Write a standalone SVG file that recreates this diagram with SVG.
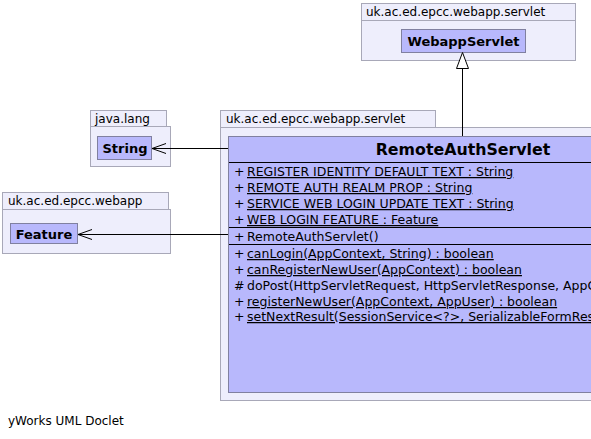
<svg xmlns="http://www.w3.org/2000/svg" width="591" height="439" viewBox="0 0 591 439">
<defs>
<style>
.pkg{fill:#eeeefc;stroke:#a8a8b8;stroke-width:1}
.cls{fill:#b8b8fc;stroke:#8080a0;stroke-width:1}
.t{font-family:"DejaVu Sans",sans-serif;font-size:12px;fill:#000}
.m{font-family:"DejaVu Sans",sans-serif;font-size:12.5px;fill:#000}
.b{font-family:"DejaVu Sans",sans-serif;font-size:13px;font-weight:bold;fill:#000}
.u{text-decoration:underline}
.sep{stroke:#000;stroke-width:1}
.edge{stroke:#000;stroke-width:1;fill:none}
</style>
</defs>
<rect width="591" height="439" fill="#fff"/>

<g id="pkg-servlet-top">
<rect class="pkg" x="361.5" y="3.5" width="214" height="17"/>
<rect class="pkg" x="361.5" y="20.5" width="214" height="40"/>
<text class="t" x="366" y="16">uk.ac.ed.epcc.webapp.servlet</text>
</g>
<g id="WebappServlet">
<rect class="cls" x="401.5" y="29.5" width="124" height="23"/>
<text class="b" x="463.5" y="46" text-anchor="middle">WebappServlet</text>
</g>

<g id="pkg-java-lang">
<rect class="pkg" x="90.5" y="110.5" width="76" height="16"/>
<rect class="pkg" x="90.5" y="126.5" width="80" height="40"/>
<text class="t" x="95" y="123">java.lang</text>
</g>
<g id="String">
<rect class="cls" x="97.5" y="136.5" width="54" height="23"/>
<text class="b" x="125" y="153" text-anchor="middle">String</text>
</g>

<g id="pkg-webapp">
<rect class="pkg" x="2.5" y="192.5" width="166" height="17"/>
<rect class="pkg" x="2.5" y="209.5" width="168" height="44"/>
<text class="t" x="8" y="205">uk.ac.ed.epcc.webapp</text>
</g>
<g id="Feature">
<rect class="cls" x="10.5" y="223.5" width="67" height="20"/>
<text class="b" x="44" y="238.5" text-anchor="middle">Feature</text>
</g>

<g id="pkg-servlet">
<rect class="pkg" x="220.5" y="110.5" width="215" height="17"/>
<rect class="pkg" x="220.5" y="127.5" width="480" height="273"/>
<text class="t" x="226" y="123">uk.ac.ed.epcc.webapp.servlet</text>
</g>
<g id="RemoteAuthServlet">
<rect class="cls" x="228.5" y="136.5" width="468" height="256"/>
<text class="b" x="463" y="155" text-anchor="middle" style="font-size:15.8px">RemoteAuthServlet</text>
<line class="sep" x1="229" y1="162.5" x2="697" y2="162.5"/>
<text class="m" x="234" y="176">+</text><text class="m u" x="247" y="176">REGISTER IDENTITY DEFAULT TEXT : String</text>
<text class="m" x="234" y="192">+</text><text class="m u" x="247" y="192">REMOTE AUTH REALM PROP : String</text>
<text class="m" x="234" y="208">+</text><text class="m u" x="247" y="208">SERVICE WEB LOGIN UPDATE TEXT : String</text>
<text class="m" x="234" y="224">+</text><text class="m u" x="247" y="224">WEB LOGIN FEATURE : Feature</text>
<line class="sep" x1="229" y1="227.5" x2="697" y2="227.5"/>
<text class="m" x="234" y="241">+</text><text class="m" x="247" y="241">RemoteAuthServlet()</text>
<line class="sep" x1="229" y1="244.5" x2="697" y2="244.5"/>
<text class="m" x="234" y="258">+</text><text class="m u" x="247" y="258">canLogin(AppContext, String) : boolean</text>
<text class="m" x="234" y="274">+</text><text class="m u" x="247" y="274">canRegisterNewUser(AppContext) : boolean</text>
<text class="m" x="234" y="290">#</text><text class="m" x="247" y="290">doPost(HttpServletRequest, HttpServletResponse, AppContext) : void</text>
<text class="m" x="234" y="306">+</text><text class="m u" x="247" y="306">registerNewUser(AppContext, AppUser) : boolean</text>
<text class="m" x="234" y="321">+</text><text class="m u" x="247" y="321">setNextResult(SessionService&lt;?&gt;, SerializableFormResult) : void</text>
</g>

<g id="connectors">
<line class="edge" x1="462.5" y1="68" x2="462.5" y2="136"/>
<polygon points="462.5,52.5 456.5,68.5 468.5,68.5" fill="#fff" stroke="#000" stroke-width="1"/>
<line class="edge" x1="152" y1="148.5" x2="228" y2="148.5"/>
<polyline class="edge" points="166,143.5 152,148.5 166,153.5"/>
<line class="edge" x1="78" y1="234.5" x2="228" y2="234.5"/>
<polyline class="edge" points="92,229.5 78,234.5 92,239.5"/>
</g>

<text class="t" x="8" y="425">yWorks UML Doclet</text>
</svg>
